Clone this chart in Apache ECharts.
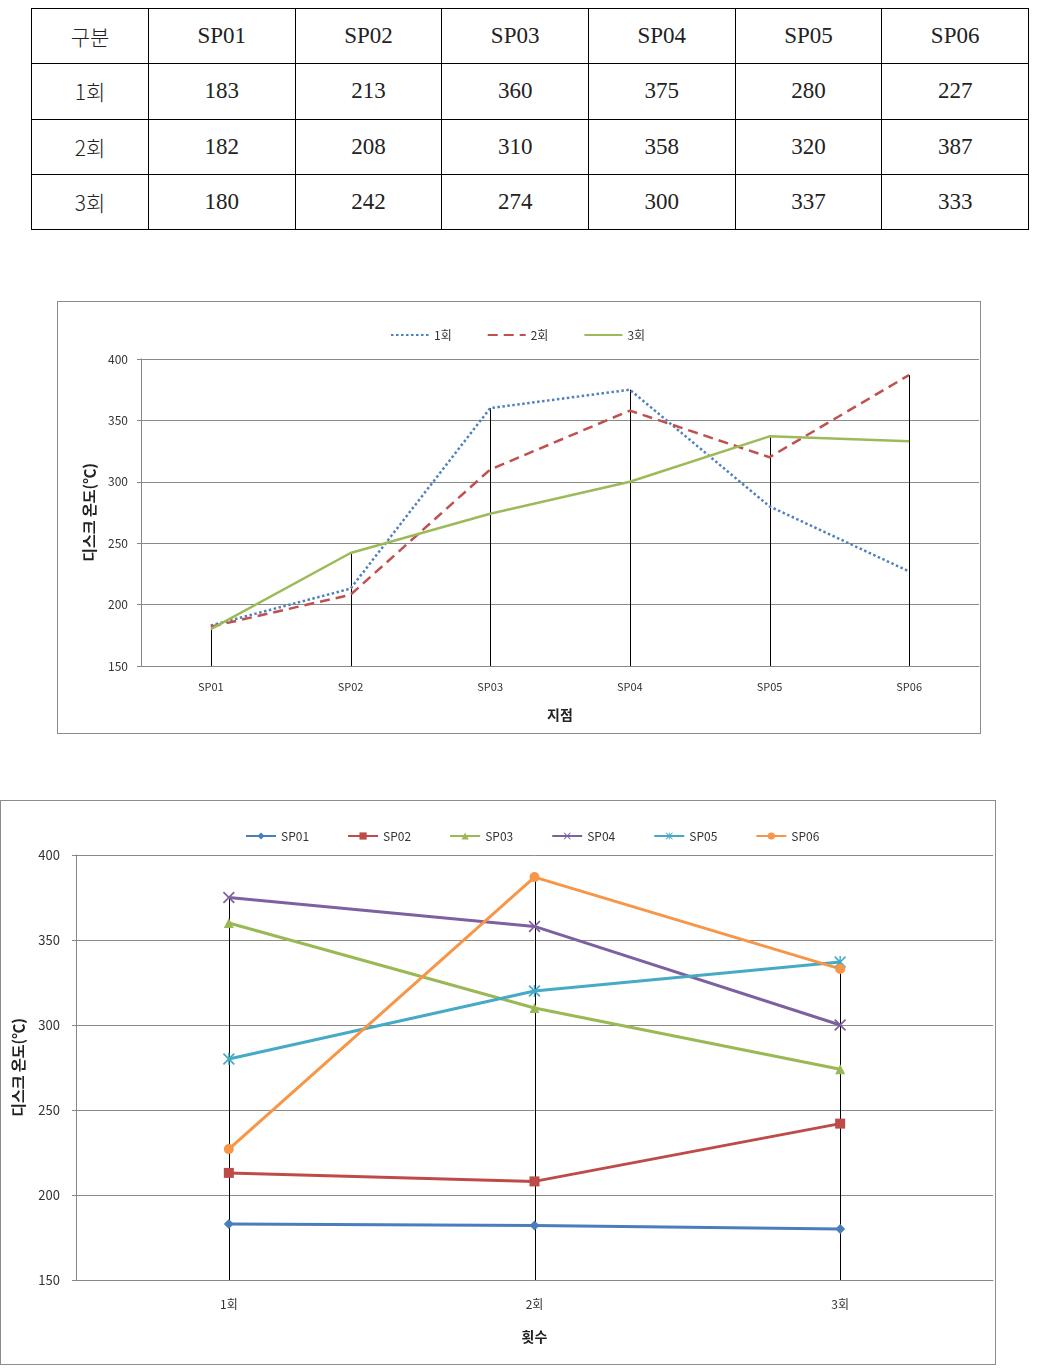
<!DOCTYPE html>
<html>
<head>
<meta charset="utf-8">
<script src="https://cdn.jsdelivr.net/npm/echarts@6/dist/echarts.min.js"></script>
<style>
  html, body { margin: 0; padding: 0; background: #fff; }
  body { width: 1048px; height: 1369px; position: relative; overflow: hidden; }
  table.data {
    position: absolute; left: 31px; top: 8px; width: 998px; height: 222px;
    border-collapse: collapse; table-layout: fixed;
    font-family: "Liberation Serif", "DejaVu Serif", "Noto Sans CJK KR", serif;
    font-size: 23px; font-weight: normal; color: #222;
  }
  table.data td { border: 1.5px solid #000; text-align: center; vertical-align: middle; padding: 0; font-weight: normal; }
  table.data td.k { font-family: "Noto Sans CJK KR", sans-serif; font-weight: 300; font-size: 21px; }
  .chartbox { position: absolute; border: 1px solid #8c8c8c; box-sizing: border-box; }
</style>
</head>
<body>
<table class="data" id="tbl"></table>
<div id="c1" class="chartbox" style="left:57px; top:301px; width:924px; height:433px;"></div>
<div id="c2" class="chartbox" style="left:0px; top:800px; width:996px; height:565px;"></div>
<script>
// ---- data ----
const points = ['SP01', 'SP02', 'SP03', 'SP04', 'SP05', 'SP06'];
const runs = ['1회', '2회', '3회'];
const run1 = [183, 213, 360, 375, 280, 227];
const run2 = [182, 208, 310, 358, 320, 387];
const run3 = [180, 242, 274, 300, 337, 333];
const headerLabel = '구분';
const yTicks = [150, 200, 250, 300, 350, 400];
const yName = '디스크 온도(℃)';
const xName1 = '지점';
const xName2 = '횟수';

const runData = [run1, run2, run3];

// ---- table ----
(function () {
  const tbl = document.getElementById('tbl');
  const colg = document.createElement('colgroup');
  const c0 = document.createElement('col'); c0.style.width = '117px'; colg.appendChild(c0);
  points.forEach(() => { const c = document.createElement('col'); colg.appendChild(c); });
  tbl.appendChild(colg);
  const head = document.createElement('tr');
  [headerLabel].concat(points).forEach((t, j) => { const td = document.createElement('td'); td.textContent = t; if (j === 0) td.className = 'k'; head.appendChild(td); });
  tbl.appendChild(head);
  runs.forEach((r, i) => {
    const tr = document.createElement('tr');
    const td0 = document.createElement('td'); td0.textContent = r; td0.className = 'k'; tr.appendChild(td0);
    runData[i].forEach(v => { const td = document.createElement('td'); td.textContent = v; tr.appendChild(td); });
    tbl.appendChild(tr);
  });
})();

const FONT = '"Noto Sans CJK KR", "Noto Sans", sans-serif';
const yMin = yTicks[0], yMax = yTicks[yTicks.length - 1], yStep = yTicks[1] - yTicks[0];

function dropSeries(maxes, z) {
  return {
    type: 'custom', name: 'drop', z: z, silent: true,
    data: maxes.map((m, i) => [i, m]),
    renderItem: function (params, api) {
      const top = api.coord([api.value(0), api.value(1)]);
      const bot = api.coord([api.value(0), yMin]);
      return { type: 'line', shape: { x1: Math.round(top[0]) + 0.5, y1: top[1], x2: Math.round(bot[0]) + 0.5, y2: bot[1] },
               style: { stroke: '#000', lineWidth: 1 } };
    }
  };
}

function yAxisCfg(nameGap, labelMargin, fontSize) {
  return {
    type: 'value', min: yMin, max: yMax, interval: yStep,
    name: yName, nameLocation: 'middle', nameGap: nameGap, nameRotate: 90,
    nameTextStyle: { fontFamily: FONT, fontSize: 15, fontWeight: 'bold', color: '#222' },
    axisLine: { show: true, lineStyle: { color: '#868686', width: 1 } },
    axisTick: { show: true, length: 4, lineStyle: { color: '#868686' } },
    axisLabel: { margin: labelMargin, fontFamily: FONT, fontSize: fontSize, color: '#333' },
    splitLine: { show: true, lineStyle: { color: '#8a8a8a', width: 1 } }
  };
}

// ---- chart 1 ----
const c1 = echarts.init(document.getElementById('c1'));
const maxByPoint = points.map((p, i) => Math.max(run1[i], run2[i], run3[i]));
const styles1 = [
  { color: '#4F81BD', type: [2.5, 2.5] },
  { color: '#C0504D', type: [10, 6] },
  { color: '#9BBB59', type: 'solid' }
];
c1.setOption({
  animation: false,
  legend: {
    data: runs, top: 22, left: 327, itemGap: 35, itemWidth: 38, itemHeight: 10,
    itemStyle: { opacity: 0 },
    textStyle: { fontFamily: FONT, fontSize: 12, color: '#333' }
  },
  grid: { left: 83, right: 1, top: 57, bottom: 67, outerBoundsMode: 'none', containLabel: false },
  xAxis: {
    type: 'category', data: points, boundaryGap: true,
    name: xName1, nameLocation: 'middle', nameGap: 42,
    nameTextStyle: { fontFamily: FONT, fontSize: 14, fontWeight: 'bold', color: '#222' },
    axisLine: { lineStyle: { color: '#868686' } },
    axisTick: { show: false },
    axisLabel: { margin: 15, fontFamily: FONT, fontSize: 11, color: '#333' }
  },
  yAxis: yAxisCfg(44, 13, 12),
  series: [dropSeries(maxByPoint, 1)].concat(runs.map((r, i) => ({
    type: 'line', name: r, data: runData[i], symbol: 'none', z: 3,
    itemStyle: { color: styles1[i].color },
    lineStyle: { color: styles1[i].color, width: 2.5, type: styles1[i].type }
  })))
});

// ---- chart 2 ----
const c2 = echarts.init(document.getElementById('c2'));
const seriesByPoint = points.map((p, i) => runData.map(r => r[i]));
const maxByRun = runs.map((r, i) => Math.max.apply(null, runData[i]));
const colors2 = ['#4A7EBB', '#BE4B48', '#98B954', '#7D60A0', '#46AAC5', '#F79646'];
const symX = 'path://M1,0L5,4L9,0L10,1L6,5L10,9L9,10L5,6L1,10L0,9L4,5L0,1Z';
const symStar = 'path://M1,0L5,4L9,0L10,1L6,5L10,9L9,10L5,6L1,10L0,9L4,5L0,1Z M4.4,0L5.6,0L5.6,10L4.4,10Z';
const symbols2 = ['diamond', 'rect', 'triangle', symX, symStar, 'circle'];
const sizes2 = [10, 10, 10, 12, 12, 10];
c2.setOption({
  animation: false,
  legend: {
    data: points, top: 24, left: 239, itemGap: 38, itemWidth: 30, itemHeight: 9,
    textStyle: { fontFamily: FONT, fontSize: 12, color: '#333' }
  },
  grid: { left: 75, right: 2, top: 54, bottom: 84, outerBoundsMode: 'none', containLabel: false },
  xAxis: {
    type: 'category', data: runs, boundaryGap: true,
    name: xName2, nameLocation: 'middle', nameGap: 50,
    nameTextStyle: { fontFamily: FONT, fontSize: 14, fontWeight: 'bold', color: '#222' },
    axisLine: { lineStyle: { color: '#868686' } },
    axisTick: { show: false },
    axisLabel: { margin: 18, fontFamily: FONT, fontSize: 12, color: '#333' }
  },
  yAxis: yAxisCfg(50, 16, 13),
  series: [dropSeries(maxByRun, 1)].concat(points.map((p, i) => ({
    type: 'line', name: p, data: seriesByPoint[i], z: 3,
    symbol: symbols2[i], symbolSize: sizes2[i], showAllSymbol: true,
    itemStyle: { color: colors2[i] },
    lineStyle: { color: colors2[i], width: 3 }
  })))
});
</script>
</body>
</html>
